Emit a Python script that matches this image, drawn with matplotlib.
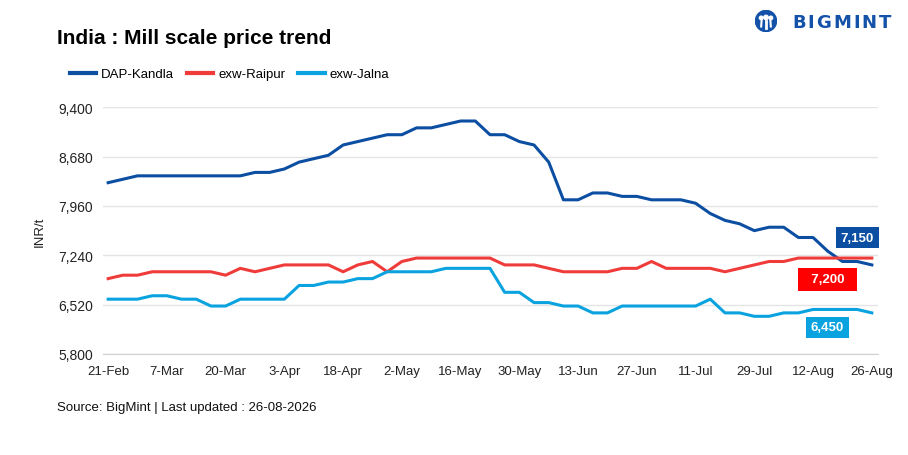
import matplotlib
matplotlib.use("Agg")
import matplotlib.pyplot as plt
from matplotlib.ticker import FuncFormatter
from matplotlib.patches import Circle

plt.rcParams['font.family'] = ['Liberation Sans', 'DejaVu Sans']

tick_labels = ["21-Feb", "7-Mar", "20-Mar", "3-Apr", "18-Apr", "2-May", "16-May",
               "30-May", "13-Jun", "27-Jun", "11-Jul", "29-Jul", "12-Aug", "26-Aug"]

dap_kandla = [8300, 8350, 8400, 8400, 8400, 8400, 8400, 8400, 8400, 8400,
              8450, 8450, 8500, 8600, 8650, 8700, 8850, 8900, 8950, 9000,
              9000, 9100, 9100, 9150, 9200, 9200, 9000, 9000, 8900, 8850,
              8600, 8050, 8050, 8150, 8150, 8100, 8100, 8050, 8050, 8050,
              8000, 7850, 7750, 7700, 7600, 7650, 7650, 7500, 7500, 7300,
              7150, 7150, 7100]
exw_raipur = [6900, 6950, 6950, 7000, 7000, 7000, 7000, 7000, 6950, 7050,
              7000, 7050, 7100, 7100, 7100, 7100, 7000, 7100, 7150, 7000,
              7150, 7200, 7200, 7200, 7200, 7200, 7200, 7100, 7100, 7100,
              7050, 7000, 7000, 7000, 7000, 7050, 7050, 7150, 7050, 7050,
              7050, 7050, 7000, 7050, 7100, 7150, 7150, 7200, 7200, 7200,
              7200, 7200, 7200]
exw_jalna = [6600, 6600, 6600, 6650, 6650, 6600, 6600, 6500, 6500, 6600,
             6600, 6600, 6600, 6800, 6800, 6850, 6850, 6900, 6900, 7000,
             7000, 7000, 7000, 7050, 7050, 7050, 7050, 6700, 6700, 6550,
             6550, 6500, 6500, 6400, 6400, 6500, 6500, 6500, 6500, 6500,
             6500, 6600, 6400, 6400, 6350, 6350, 6400, 6400, 6450, 6450,
             6450, 6450, 6400]
end_labels = ["7,150", "7,200", "6,450"]
y_ticks = [5800, 6520, 7240, 7960, 8680, 9400]

c_dap = "#0B4EA2"
c_rai = "#EF3B3A"
c_jal = "#0AA3E0"

fig = plt.figure(figsize=(9.08, 4.56), dpi=100)
ax = fig.add_axes([103/908, 1-355/456, (877.7-103)/908, (355-108.3)/456])

x = list(range(len(dap_kandla)))
ax.plot(x, dap_kandla, color=c_dap, lw=2.2, label="DAP-Kandla", solid_joinstyle='round')
ax.plot(x, exw_raipur, color=c_rai, lw=2.2, label="exw-Raipur", solid_joinstyle='round')
ax.plot(x, exw_jalna, color=c_jal, lw=2.2, label="exw-Jalna", solid_joinstyle='round')

ax.set_ylim(5800, 9400)
ax.set_xlim(-0.35, len(x) - 1 + 0.4)
ax.set_yticks(y_ticks)
ax.yaxis.set_major_formatter(FuncFormatter(lambda v, p: f"{int(v):,}"))
ax.set_xticks(list(range(0, len(x), 4)))
ax.set_xticklabels(tick_labels)
ax.tick_params(axis='both', length=0, colors="#222222")
ax.tick_params(axis='x', pad=8, labelsize=9.5)
ax.tick_params(axis='y', pad=7, labelsize=10)
ax.grid(axis='y', color="#E4E4E4", lw=1)
ax.set_axisbelow(True)
for s in ["top", "right", "left"]:
    ax.spines[s].set_visible(False)
ax.spines["bottom"].set_color("#D0D0D0")
ax.set_ylabel("INR/t", fontsize=9.5, color="#222222", labelpad=9)

fig.text(57/908, 1-38/456, "India : Mill scale price trend", fontsize=15,
         fontweight='bold', va='center', ha='left')
fig.text(57/908, 1-408/456, "Source: BigMint | Last updated : 26-08-2026", fontsize=9.5,
         va='center', ha='left', color="#111111")

leg = fig.legend(loc='center left', bbox_to_anchor=(58/908, 1-75/456), ncol=3, frameon=False,
                 fontsize=9.5, handlelength=2.0, columnspacing=1.0, handletextpad=0.35)
for ln in leg.get_lines():
    ln.set_linewidth(3)

# end labels
box_specs = [(len(x) - 1 + 0.15, 7500, end_labels[0], c_dap, 0.35),
             (len(x) - 1 - 1.4, 6890, "  " + end_labels[1] + "  ", "#FF0000", 0.4),
             (len(x) - 1 - 1.9, 6190, end_labels[2], c_jal, 0.35)]
for xx, yy, t, c, p in box_specs:
    ax.text(xx, yy, t, ha='right', va='center', fontsize=9.5, fontweight='bold', color='white',
            bbox=dict(boxstyle=f'square,pad={p}', fc=c, ec='none'))

# logo
letters = "BIGMINT"
lx = 792
for ch in letters:
    t = fig.text(lx/908, 1-23/456, ch, fontsize=13, fontweight='bold', color="#1352A8",
                 va='center', ha='left', fontfamily='DejaVu Sans')
    w = {"B": 14, "I": 7, "G": 16, "M": 18, "N": 16, "T": 14}[ch]
    lx += w + 1.5
logo_ax = fig.add_axes([755/908, 1-33/456, 22/908, 22/456])
logo_ax.set_xlim(0, 1); logo_ax.set_ylim(0, 1); logo_ax.axis('off')
logo_ax.set_aspect('equal')
logo_ax.add_patch(Circle((0.5, 0.5), 0.48, color="#1352A8"))
logo_ax.add_patch(Circle((0.5, 0.66), 0.1, color="white"))
logo_ax.add_patch(Circle((0.28, 0.64), 0.08, color="white"))
logo_ax.add_patch(Circle((0.72, 0.64), 0.08, color="white"))
logo_ax.plot([0.5, 0.5], [0.2, 0.52], color="white", lw=2)
logo_ax.plot([0.28, 0.3], [0.25, 0.52], color="white", lw=1.5)
logo_ax.plot([0.72, 0.7], [0.25, 0.52], color="white", lw=1.5)

fig.savefig("out.png", dpi=100, facecolor='white')
